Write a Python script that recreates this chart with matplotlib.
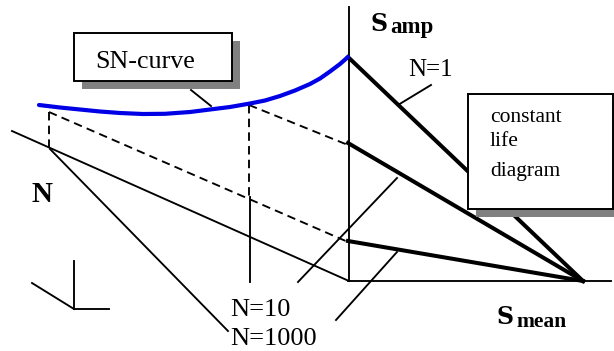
import matplotlib
matplotlib.use('Agg')
import matplotlib.pyplot as plt
from matplotlib.patches import Rectangle

# Everything, in pixels (y goes down)
WIDTH, HEIGHT = 614, 351

# SN-curve
sn_x = [39, 60, 80, 100, 120, 143, 165, 190, 210, 230, 250, 265, 280, 295, 310, 320, 330, 340, 348]
sn_y = [105, 107.5, 109.5, 111.5, 113, 114, 113.8, 112, 109.5, 107, 103.5, 100.5, 96, 90.5, 84, 78.5, 71.5, 64, 57]

# constant life lines, from the S_amp axis down to one point on S_mean
life_start_y = [57, 143, 241]
life_end = (583, 281)

# thin solid lines: (x0, y0, x1, y1)
thin_lines = [
    (348.5, 7, 348.5, 281),    # S_amp axis
    (348, 281, 611, 281),      # S_mean axis
    (12, 131, 349, 281),       # N axis
    (50, 149, 228, 331),       # leader to N=1000 side
    (250, 197, 250, 282),      # N=10 drop
    (431, 85, 398, 105),       # N=1 leader
    (191, 90, 211, 106),       # SN-curve leader
    (397, 178, 298, 282),      # N=10 leader
    (397, 252, 336, 320),      # N=1000 leader
    (32, 283, 74, 309),        # small axes
    (74, 261, 74, 309),
    (74, 309, 109, 309),
]

# dashed lines
dashed_lines = [
    (49, 112, 49, 149),
    (249, 105, 249, 197),
    (49, 112, 348, 242),
    (249, 105, 348, 145),
]

# boxes: x, y, w, h
sn_box = (74, 33, 158, 48)
life_box = (468, 94, 145, 115)
SHADOW = 8

SERIF = 'Liberation Serif'

fig = plt.figure(figsize=(WIDTH / 100, HEIGHT / 100), dpi=100)
ax = fig.add_axes([0, 0, 1, 1])
ax.set_xlim(0, WIDTH)
ax.set_ylim(HEIGHT, 0)
ax.axis('off')

for x0, y0, x1, y1 in thin_lines:
    ax.plot([x0, x1], [y0, y1], color='black', lw=1.35, zorder=1)

for x0, y0, x1, y1 in dashed_lines:
    ax.plot([x0, x1], [y0, y1], color='black', lw=1.35, linestyle=(0, (4.5, 2.8)), zorder=1)

for y in life_start_y:
    ax.plot([348, life_end[0]], [y, life_end[1]], color='black', lw=2.9, zorder=2)

ax.plot(sn_x, sn_y, color='#0000e6', lw=3, solid_capstyle='round', zorder=3)

# boxes with a grey drop shadow, over the lines
for x, y, w, h in [sn_box, life_box]:
    ax.add_patch(Rectangle((x + SHADOW, y + SHADOW), w, h, facecolor='#808080', edgecolor='none', zorder=4))
    ax.add_patch(Rectangle((x, y), w, h, facecolor='white', edgecolor='black', lw=1.4, zorder=5))

# text
ax.text(95, 68, 'SN-curve', family=SERIF, fontsize=18.7, va='baseline', zorder=6)
ax.text(490, 122, 'constant', family=SERIF, fontsize=15.5, va='baseline', zorder=6)
ax.text(490, 146, 'life', family=SERIF, fontsize=15.5, va='baseline', zorder=6)
ax.text(490, 176, 'diagram', family=SERIF, fontsize=15.5, va='baseline', zorder=6)
ax.text(408, 76, 'N=1', family=SERIF, fontsize=18, va='baseline', zorder=6)
ax.text(230, 316, 'N=10', family=SERIF, fontsize=19, va='baseline', zorder=6)
ax.text(230, 345, 'N=1000', family=SERIF, fontsize=19, va='baseline', zorder=6)
ax.text(32, 202, 'N', family=SERIF, fontsize=21, weight='bold', va='baseline', zorder=6)

ax.text(370, 31, 'S', family='DejaVu Serif', fontsize=17, weight='bold', va='baseline', zorder=6)
ax.text(390, 33, 'amp', family=SERIF, fontsize=16.5, weight='bold', va='baseline', zorder=6)
ax.text(496, 324, 'S', family='DejaVu Serif', fontsize=17, weight='bold', va='baseline', zorder=6)
ax.text(516, 327, 'mean', family=SERIF, fontsize=15.5, weight='bold', va='baseline', zorder=6)

fig.savefig('out.png', dpi=100)
